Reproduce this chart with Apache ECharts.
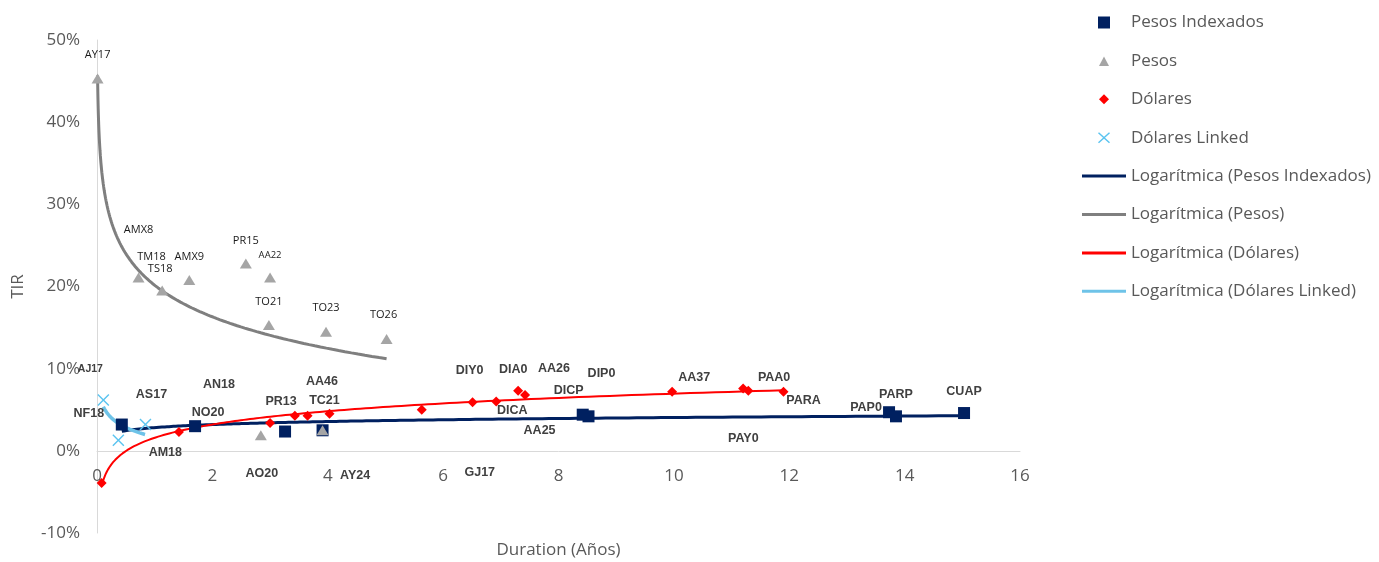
<!DOCTYPE html>
<html>
<head>
<meta charset="utf-8">
<script src="https://cdn.jsdelivr.net/npm/echarts@6/dist/echarts.min.js"></script>
<style>
html,body{margin:0;padding:0;background:#fff;}
#chart{width:1379px;height:562px;}
</style>
</head>
<body>
<div id="chart"></div>
<script>
// ---- Data (duration in years, TIR as fraction) ----
const pesosIndexadosX = [0.43, 1.70, 3.26, 3.91, 8.42, 8.52, 13.73, 13.85, 15.03];
const pesosIndexadosY = [0.032, 0.030, 0.0235, 0.025, 0.044, 0.042, 0.047, 0.042, 0.046];
const pesosIndexadosNames = ['NF18','NO20','AY24','AA25','DICP','DIP0','PAP0','PARP','CUAP'];

const pesosX = [0.01, 0.72, 1.13, 1.60, 2.58, 3.00, 2.98, 3.97, 5.02, 2.84, 3.91];
const pesosY = [0.453, 0.211, 0.195, 0.208, 0.228, 0.211, 0.153, 0.145, 0.136, 0.019, 0.025];
const pesosNames = ['AY17','TM18','TS18','AMX9','PR15','AA22','TO21','TO23','TO26','AO20','AMX8'];

const dolaresX = [0.08, 1.42, 3.00, 3.43, 3.65, 4.03, 5.63, 6.51, 6.92, 7.30, 7.42, 9.97, 11.20, 11.29, 11.90];
const dolaresY = [-0.039, 0.023, 0.034, 0.0426, 0.0426, 0.045, 0.050, 0.059, 0.060, 0.073, 0.068, 0.072, 0.076, 0.073, 0.072];
const dolaresNames = ['','AN18','PR13','AA46','','TC21','GJ17','DIY0','DICA','DIA0','AA26','AA37','PAA0','PAY0','PARA'];

const linkedX = [0.11, 0.37, 0.84];
const linkedY = [0.062, 0.013, 0.032];
const linkedNames = ['AJ17','AM18','AS17'];

const xTicks = {min: 0, max: 16, interval: 2};
const yTicks = {min: -0.1, max: 0.5, interval: 0.1};

const seriesNames = ['Pesos Indexados','Pesos','Dólares','Dólares Linked'];
const trendNames = ['Logarítmica (Pesos Indexados)','Logarítmica (Pesos)','Logarítmica (Dólares)','Logarítmica (Dólares Linked)'];

// ---- Label placement (pixel offsets from the point) ----
const labelOffset = {
  AY17:[0,-24], TM18:[13,-21], TS18:[-2,-22], AMX9:[0,-23], PR15:[0,-23], AA22:[0,-22],
  TO21:[0,-23], TO23:[0,-24], TO26:[-3,-24], AO20:[1,38], AMX8:[-184,-200],
  NF18:[-33,-11], NO20:[13,-14], AY24:[70,44], AA25:[217,0], DICP:[-14,-24], DIP0:[13,-43],
  PAP0:[-23,-5], PARP:[0,-22], CUAP:[0,-21],
  AJ17:[-13,-31], AM18:[47,12], AS17:[6,-30],
  AN18:[40,-47], PR13:[11,-21], AA46:[27,-34], TC21:[-5,-13], GJ17:[58,63], DIY0:[-3,-32],
  DICA:[16,9], DIA0:[-5,-21], AA26:[29,-26], AA37:[22,-14], PAA0:[31,-11], PAY0:[-5,48], PARA:[20,9]
};
const regularLabels = new Set(['AY17','TM18','TS18','AMX9','PR15','AA22','TO21','TO23','TO26','AMX8']);

function labelFor(n) {
  if (!n) return {show:false};
  const reg = regularLabels.has(n);
  let size = reg ? 11 : 12.5;
  if (n === 'AA22') size = 9.5;
  if (n === 'AJ17') size = 10.5;
  return {
    show: true, formatter: n, position: 'inside', offset: labelOffset[n] || [0,-20],
    fontFamily: reg ? 'Open Sans' : 'Liberation Sans', fontWeight: reg ? 'normal' : 'bold',
    fontSize: size, color: reg ? '#1a1a1a' : '#404040'
  };
}
function points(xs, ys, names) {
  return xs.map((x, i) => ({value: [x, ys[i]], name: names[i], label: labelFor(names[i])}));
}
// Excel-style logarithmic trendline: least squares fit y = a ln(x) + b
function logTrend(xs, ys) {
  const n = xs.length, lx = xs.map(Math.log);
  const mx = lx.reduce((s,v)=>s+v,0)/n, my = ys.reduce((s,v)=>s+v,0)/n;
  let sxx = 0, sxy = 0;
  for (let i = 0; i < n; i++) { sxx += (lx[i]-mx)*(lx[i]-mx); sxy += (lx[i]-mx)*(ys[i]-my); }
  const a = sxy/sxx, b = my - a*mx;
  const lo = Math.min(...xs), hi = Math.max(...xs), out = [];
  for (let i = 0; i <= 240; i++) { const x = lo*Math.pow(hi/lo, i/240); out.push([x, a*Math.log(x)+b]); }
  return out;
}

const COL = {pi:'#002060', p:'#A5A5A5', d:'#FF0000', l:'#5BC4F0'};
const TREND = {pi:'#002060', p:'#7F7F7F', d:'#FF0000', l:'#6EC3E8'};
const xPath = 'path://M1,0 L6,5 L11,0 L12,1 L7,6 L12,11 L11,12 L6,7 L1,12 L0,11 L5,6 L0,1 Z';
// legend icons drawn in a 44x12 box (marker centred)
const legRect = 'path://M0,0 M44,12 M16,0 L28,0 L28,12 L16,12 Z';
const legTri = 'path://M0,0 M44,12 M17,11 L22,1.5 L27,11 Z';
const legDia = 'path://M0,0 M44,12 M22,1 L27,6 L22,11 L17,6 Z';
const legX = 'path://M0,0 M44,12 M17,0.5 L22,5 L27,0.5 L28,1.5 L23,6 L28,10.5 L27,11.5 L22,7 L17,11.5 L16,10.5 L21,6 L16,1.5 Z';
const linePath = 'path://M0,4.5 M44,7.5 M0,4.5 H44 V7.5 H0 Z';

const GRID = {left: 97, right: 359, top: 40, bottom: 29};
const PLOT_H = 562 - GRID.top - GRID.bottom;
// distance from the plot bottom up to the 0% line (x axis crosses at 0)
const zeroLift = PLOT_H * (0 - yTicks.min) / (yTicks.max - yTicks.min);

const chart = echarts.init(document.getElementById('chart'));
chart.setOption({
  animation: false,
  backgroundColor: '#fff',
  grid: Object.assign({containLabel: false, outerBoundsMode: 'none'}, GRID),
  legend: {
    orient: 'vertical', left: 1077, top: 9, itemWidth: 44, itemHeight: 12, itemGap: 21.4,
    textStyle: {fontFamily: 'Open Sans', fontSize: 17, color: '#595959'},
    data: [
      {name: seriesNames[0], icon: legRect},
      {name: seriesNames[1], icon: legTri},
      {name: seriesNames[2], icon: legDia},
      {name: seriesNames[3], icon: legX},
      {name: trendNames[0], icon: linePath},
      {name: trendNames[1], icon: linePath},
      {name: trendNames[2], icon: linePath},
      {name: trendNames[3], icon: linePath}
    ]
  },
  xAxis: {
    type: 'value', min: xTicks.min, max: xTicks.max, interval: xTicks.interval,
    position: 'bottom', offset: -zeroLift,
    name: 'Duration (Años)', nameLocation: 'middle', nameGap: 91,
    nameTextStyle: {fontFamily: 'Open Sans', fontSize: 17, color: '#595959'},
    axisLine: {show: true, onZero: false, lineStyle: {color: '#D9D9D9', width: 1}},
    axisTick: {show: false}, splitLine: {show: false},
    axisLabel: {margin: 17, fontFamily: 'Open Sans', fontSize: 17, color: '#595959'}
  },
  yAxis: {
    type: 'value', min: yTicks.min, max: yTicks.max, interval: yTicks.interval,
    name: 'TIR', nameLocation: 'middle', nameGap: 70, nameRotate: 90,
    nameTextStyle: {fontFamily: 'Open Sans', fontSize: 17, color: '#595959'},
    axisLine: {show: true, onZero: false, lineStyle: {color: '#D9D9D9', width: 1}},
    axisTick: {show: false}, splitLine: {show: false},
    axisLabel: {margin: 17, fontFamily: 'Open Sans', fontSize: 17, color: '#595959',
      formatter: v => Math.round(v*100) + '%'}
  },
  series: [
    {name: trendNames[0], type: 'line', z: 2, showSymbol: false, symbol: 'none', data: logTrend(pesosIndexadosX, pesosIndexadosY),
      lineStyle: {color: TREND.pi, width: 3}, itemStyle: {color: TREND.pi}},
    {name: trendNames[1], type: 'line', z: 2, showSymbol: false, symbol: 'none', data: logTrend(pesosX, pesosY),
      lineStyle: {color: TREND.p, width: 3}, itemStyle: {color: TREND.p}},
    {name: trendNames[2], type: 'line', z: 2, showSymbol: false, symbol: 'none', data: logTrend(dolaresX, dolaresY),
      lineStyle: {color: TREND.d, width: 2}, itemStyle: {color: TREND.d}},
    {name: trendNames[3], type: 'line', z: 2, showSymbol: false, symbol: 'none', data: logTrend(linkedX, linkedY),
      lineStyle: {color: TREND.l, width: 3.5}, itemStyle: {color: TREND.l}},
    {name: seriesNames[0], type: 'scatter', z: 3, symbol: 'rect', symbolSize: 12,
      itemStyle: {color: COL.pi, opacity: 1}, data: points(pesosIndexadosX, pesosIndexadosY, pesosIndexadosNames)},
    {name: seriesNames[1], type: 'scatter', z: 3, symbol: 'triangle', symbolSize: [12, 10],
      itemStyle: {color: COL.p, opacity: 1}, data: points(pesosX, pesosY, pesosNames)},
    {name: seriesNames[2], type: 'scatter', z: 3, symbol: 'diamond', symbolSize: 10,
      itemStyle: {color: COL.d, opacity: 1}, data: points(dolaresX, dolaresY, dolaresNames)},
    {name: seriesNames[3], type: 'scatter', z: 3, symbol: xPath, symbolSize: 12,
      itemStyle: {color: COL.l, opacity: 1}, data: points(linkedX, linkedY, linkedNames)}
  ]
});
</script>
</body>
</html>
